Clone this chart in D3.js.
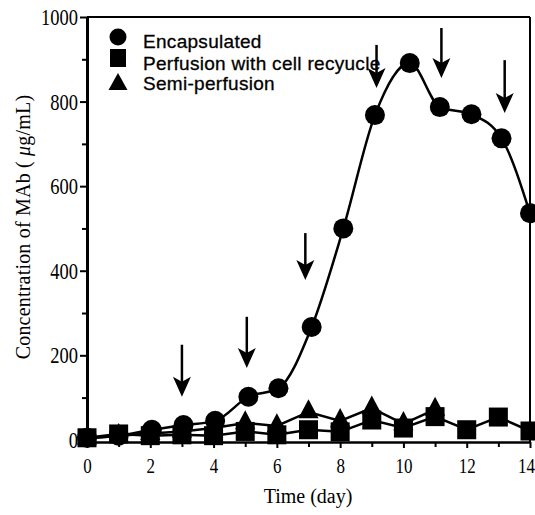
<!DOCTYPE html>
<html>
<head>
<meta charset="utf-8">
<script src="https://cdn.jsdelivr.net/npm/d3@7"></script>
<style>
body { margin: 0; background: #fff; }
svg { display: block; }
.axis path, .axis line { stroke: #000; }
.axis text { font-family: 'Liberation Serif', 'Times New Roman', serif; fill: #000; }
</style>
</head>
<body>
<svg id="chart" width="535" height="515"></svg>
<script>
// values
var encDays = [0, 1, 2.05, 3.05, 4.05, 5.1, 6.05, 7.1, 8.1, 9.1, 10.2, 11.15, 12.15, 13.1, 14];
var encVals = [5, 10, 24, 35, 45, 102, 122, 267, 500, 768, 891, 787, 770, 713, 536];

var perfDays = [0, 1, 2, 3, 4, 5, 6, 7, 8, 9, 10, 11, 12, 13, 14];
var perfVals = [5, 14, 10, 12, 10, 20, 12, 24, 19, 47, 28, 55, 24, 54, 21];

var semiDays = [0, 1, 2, 3, 4, 5, 6, 7, 8, 9, 10, 11];
var semiVals = [4, 10, 15, 20, 28, 40, 33, 66, 45, 75, 38, 72];

// medium change arrows: day, top of shaft, tip
var arrowDays = [3, 5.05, 6.9, 9.15, 11.2, 13.2];
var arrowTop = [225, 291, 489, 934, 974, 898];
var arrowTip = [102, 170, 378, 832, 856, 773];

var seriesNames = ['Encapsulated', 'Perfusion with cell recyucle', 'Semi-perfusion'];
var xMajor = [0, 2, 4, 6, 8, 10, 12, 14];
var xMinor = [1, 3, 5, 7, 9, 11, 13];
var yMajor = [0, 200, 400, 600, 800, 1000];
var yMinor = [100, 300, 500, 700, 900];

var svg = d3.select('#chart');

var x = d3.scaleLinear().domain([0, 14]).range([87, 530]);
var y = d3.scaleLinear().domain([-5, 1000]).range([442, 17]);

// frame top and right
svg.append('line')
    .attr('x1', x(0)).attr('x2', x(14))
    .attr('y1', y(1000)).attr('y2', y(1000))
    .attr('stroke', '#000').attr('stroke-width', 2);
svg.append('line')
    .attr('x1', x(14)).attr('x2', x(14))
    .attr('y1', y(1000)).attr('y2', y(-5))
    .attr('stroke', '#000').attr('stroke-width', 2);

// minor ticks first, then the labelled axes
svg.append('g')
    .attr('class', 'axis')
    .attr('transform', 'translate(0,' + y(-5) + ')')
    .call(d3.axisBottom(x).tickValues(xMinor).tickSize(5).tickFormat(''))
    .call(function (g) { g.select('.domain').remove(); })
    .selectAll('line').attr('stroke-width', 2);

svg.append('g')
    .attr('class', 'axis')
    .attr('transform', 'translate(' + x(0) + ',0)')
    .call(d3.axisLeft(y).tickValues(yMinor).tickSize(5).tickFormat(''))
    .call(function (g) { g.select('.domain').remove(); })
    .selectAll('line').attr('stroke-width', 2);

var xAxis = svg.append('g')
    .attr('class', 'axis')
    .attr('transform', 'translate(0,' + y(-5) + ')')
    .call(d3.axisBottom(x).tickValues(xMajor).tickSize(6).tickSizeOuter(0).tickFormat(d3.format('d')));
xAxis.select('.domain').attr('stroke-width', 2.5);
xAxis.selectAll('line').attr('stroke-width', 2);
xAxis.selectAll('text')
    .attr('y', 0).attr('dy', 0)
    .attr('transform', function (d) { return 'translate(' + (d === 14 ? -4 : 0) + ',31) scale(0.85,1.1)'; })
    .style('font-size', '20px');

var yAxis = svg.append('g')
    .attr('class', 'axis')
    .attr('transform', 'translate(' + x(0) + ',0)')
    .call(d3.axisLeft(y).tickValues(yMajor).tickSize(7).tickSizeOuter(0).tickFormat(d3.format('d')));
yAxis.select('.domain').attr('stroke-width', 3);
yAxis.selectAll('line').attr('stroke-width', 2);
yAxis.selectAll('text')
    .attr('x', 0).attr('dy', '0.34em')
    .attr('transform', 'translate(-9,0) scale(0.88,1.05)')
    .style('font-size', '21px');

// axis titles
svg.append('text')
    .attr('x', 308).attr('y', 503)
    .attr('text-anchor', 'middle')
    .style('font-family', "'Liberation Serif', 'Times New Roman', serif")
    .style('font-size', '20px')
    .text('Time (day)');

var ylab = svg.append('text')
    .attr('transform', 'translate(30,227) rotate(-90)')
    .attr('text-anchor', 'middle')
    .style('font-family', "'Liberation Serif', 'Times New Roman', serif")
    .style('font-size', '20px')
    .style('letter-spacing', '0.2px');
ylab.append('tspan').text('Concentration of MAb ( ');
ylab.append('tspan').style('font-style', 'italic').text('\u03bc');
ylab.append('tspan').text('g/mL)');

// lines
var smooth = d3.line()
    .x(function (d) { return x(d[0]); })
    .y(function (d) { return y(d[1]); })
    .curve(d3.curveMonotoneX);
var straight = d3.line()
    .x(function (d) { return x(d[0]); })
    .y(function (d) { return y(d[1]); });

var encPts = d3.zip(encDays, encVals);
var perfPts = d3.zip(perfDays, perfVals);
var semiPts = d3.zip(semiDays, semiVals);

var plot = svg.append('g');

plot.append('path').datum(semiPts)
    .attr('d', straight).attr('fill', 'none')
    .attr('stroke', '#000').attr('stroke-width', 2.5);
plot.append('path').datum(perfPts)
    .attr('d', straight).attr('fill', 'none')
    .attr('stroke', '#000').attr('stroke-width', 2.5);
plot.append('path').datum(encPts)
    .attr('d', smooth).attr('fill', 'none')
    .attr('stroke', '#000').attr('stroke-width', 2.5);

var tri = d3.symbol().type(d3.symbolTriangle).size(160);

plot.selectAll('.tri').data(semiPts).enter().append('path')
    .attr('class', 'tri')
    .attr('d', tri)
    .attr('transform', function (d) { return 'translate(' + x(d[0]) + ',' + y(d[1]) + ') scale(1.05,1.15)'; })
    .attr('fill', '#000');

plot.selectAll('.sq').data(perfPts).enter().append('rect')
    .attr('class', 'sq')
    .attr('x', function (d) { return x(d[0]) - 9.5; })
    .attr('y', function (d) { return y(d[1]) - 9.5; })
    .attr('width', 19).attr('height', 19)
    .attr('fill', '#000');

plot.selectAll('.circ').data(encPts).enter().append('circle')
    .attr('class', 'circ')
    .attr('cx', function (d) { return x(d[0]); })
    .attr('cy', function (d) { return y(d[1]); })
    .attr('r', 10)
    .attr('fill', '#000');

// arrows
var arrows = svg.append('g');
for (var i = 0; i < arrowDays.length; i++) {
    var ax = x(arrowDays[i]);
    var ay0 = y(arrowTop[i]);
    var ay1 = y(arrowTip[i]);
    arrows.append('line')
        .attr('x1', ax).attr('x2', ax)
        .attr('y1', ay0).attr('y2', ay1 - 10)
        .attr('stroke', '#000').attr('stroke-width', 2.5);
    arrows.append('path')
        .attr('d', 'M' + ax + ',' + ay1 +
            'L' + (ax - 9) + ',' + (ay1 - 20) +
            'L' + ax + ',' + (ay1 - 15) +
            'L' + (ax + 9) + ',' + (ay1 - 20) + 'Z')
        .attr('fill', '#000');
}

// legend
var legend = svg.append('g');
legend.append('circle').attr('cx', 118).attr('cy', 37).attr('r', 8.5).attr('fill', '#000');
legend.append('rect').attr('x', 110).attr('y', 49).attr('width', 16).attr('height', 18).attr('fill', '#000');
legend.append('path')
    .attr('d', 'M118,73L127.5,90L108.5,90Z')
    .attr('fill', '#000');

legend.selectAll('text').data(seriesNames).enter().append('text')
    .attr('x', 143)
    .attr('y', function (d, i) { return [48, 70, 90][i]; })
    .style('font-family', "'Liberation Sans', Arial, sans-serif")
    .style('font-size', '19px')
    .style('letter-spacing', '0.3px')
    .attr('stroke', '#000').attr('stroke-width', 0.3)
    .text(function (d) { return d; });
</script>
</body>
</html>
